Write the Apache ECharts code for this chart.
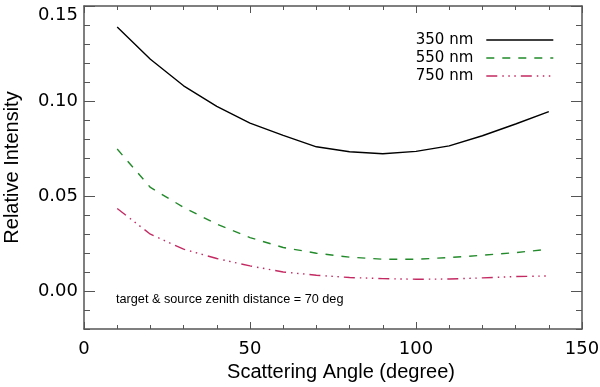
<!DOCTYPE html>
<html>
<head>
<meta charset="utf-8">
<script src="https://cdn.jsdelivr.net/npm/echarts@6/dist/echarts.min.js"></script>
<style>
  html, body { margin: 0; padding: 0; background: #fff; }
  #chart { width: 600px; height: 387px; }
</style>
</head>
<body>
<div id="chart"></div>
<script>
// ---- data ----
const angles = [10, 20, 30, 40, 50, 60, 70, 80, 90, 100, 110, 120, 130, 140];
const nm350 = [0.139, 0.122, 0.108, 0.0972, 0.0884, 0.0819, 0.0759, 0.0733, 0.0722, 0.0735, 0.0764, 0.0817, 0.0879, 0.0944];
const nm550 = [0.0747, 0.0545, 0.0440, 0.0352, 0.0281, 0.0229, 0.0199, 0.0178, 0.0167, 0.0167, 0.0176, 0.0188, 0.0202, 0.0220];
const nm750 = [0.0434, 0.0299, 0.0220, 0.0171, 0.0132, 0.0100, 0.0083, 0.0071, 0.0065, 0.0062, 0.0063, 0.0069, 0.0076, 0.0079];
const seriesNames = ['350 nm', '550 nm', '750 nm'];
const xLabels = [0, 50, 100, 150];
const xMinorTicks = [0, 10, 20, 30, 40, 50, 60, 70, 80, 90, 100, 110, 120, 130, 140, 150];
const yLabels = [0, 0.05, 0.10, 0.15];
const yMinorTicks = [-0.02, -0.01, 0, 0.01, 0.02, 0.03, 0.04, 0.05, 0.06, 0.07, 0.08, 0.09, 0.10, 0.11, 0.12, 0.13, 0.14, 0.15];
const annotation = 'target & source zenith distance = 70 deg';
const xTitle = 'Scattering Angle (degree)';
const yTitle = 'Relative Intensity';

const pairs = (vals) => angles.map((a, i) => [a, vals[i]]);

const FONT = '"Liberation Sans", Arial, Helvetica, sans-serif';
const WFONT = '"DejaVu Sans", "Liberation Sans", sans-serif';
const AXIS_COLOR = '#555';

function xAx(opts) {
  return Object.assign({
    type: 'value', min: 0, max: 150,
    axisLine: { show: false, onZero: false },
    splitLine: { show: false },
    axisLabel: { show: false },
    axisTick: { show: false }
  }, opts);
}
function yAx(opts) {
  return Object.assign({
    type: 'value', min: -0.02, max: 0.15,
    axisLine: { show: false, onZero: false },
    splitLine: { show: false },
    axisLabel: { show: false },
    axisTick: { show: false }
  }, opts);
}

const chart = echarts.init(document.getElementById('chart'), null, { renderer: 'canvas' });
chart.setOption({
  animation: false,
  backgroundColor: '#fff',
  textStyle: { fontFamily: FONT },
  grid: { left: 84, right: 18, top: 6, bottom: 58, containLabel: false, outerBoundsMode: 'none' },
  title: {
    text: annotation, left: 116, top: 293, padding: 0,
    textStyle: { fontFamily: FONT, fontSize: 12.7, fontWeight: 'normal', color: '#000' }
  },
  legend: {
    data: seriesNames,
    orient: 'vertical', align: 'right', right: 41, top: 27,
    itemWidth: 67, itemHeight: 12, itemGap: 2,
    itemStyle: { color: 'rgba(0,0,0,0)', borderWidth: 0, opacity: 0 },
    lineStyle: { width: 1.4 },
    textStyle: { fontFamily: WFONT, fontSize: 15, color: '#000', lineHeight: 16, padding: [0, 8, 0, 0] }
  },
  xAxis: [
    xAx({
      position: 'bottom',
      name: xTitle, nameLocation: 'middle', nameGap: 33,
      nameTextStyle: { fontFamily: FONT, fontSize: 20, color: '#000', padding: [0, 0, 0, 16] },
      axisLine: { show: true, onZero: false, lineStyle: { color: AXIS_COLOR, width: 1.5 } },
      axisLabel: { show: true, customValues: xLabels, fontFamily: WFONT, fontSize: 18, color: '#000', margin: 11 },
      axisTick: { show: true, inside: true, length: 4, customValues: xMinorTicks, lineStyle: { color: AXIS_COLOR } }
    }),
    xAx({ position: 'bottom', axisTick: { show: true, inside: true, length: 7, customValues: xLabels, lineStyle: { color: AXIS_COLOR } } }),
    xAx({
      position: 'top',
      axisLine: { show: true, onZero: false, lineStyle: { color: AXIS_COLOR, width: 1.5 } },
      axisTick: { show: true, inside: true, length: 4, customValues: xMinorTicks, lineStyle: { color: AXIS_COLOR } }
    }),
    xAx({ position: 'top', axisTick: { show: true, inside: true, length: 7, customValues: xLabels, lineStyle: { color: AXIS_COLOR } } })
  ],
  yAxis: [
    yAx({
      position: 'left',
      name: yTitle, nameLocation: 'middle', nameGap: 62,
      nameTextStyle: { fontFamily: FONT, fontSize: 20, color: '#000' },
      axisLine: { show: true, onZero: false, lineStyle: { color: AXIS_COLOR, width: 1.5 } },
      axisLabel: { show: true, customValues: yLabels, fontFamily: WFONT, fontSize: 18, color: '#000', margin: 6,
        formatter: (v) => (v >= 0.149 ? '{t|' + v.toFixed(2) + '}' : v.toFixed(2)),
        rich: { t: { fontFamily: WFONT, fontSize: 18, color: '#000', padding: [18, 0, 0, 0] } } },
      axisTick: { show: true, inside: true, length: 6, customValues: yMinorTicks, lineStyle: { color: AXIS_COLOR } }
    }),
    yAx({ position: 'left', axisTick: { show: true, inside: true, length: 11, customValues: yLabels, lineStyle: { color: AXIS_COLOR } } }),
    yAx({
      position: 'right',
      axisLine: { show: true, onZero: false, lineStyle: { color: AXIS_COLOR, width: 1.5 } },
      axisTick: { show: true, inside: true, length: 6, customValues: yMinorTicks, lineStyle: { color: AXIS_COLOR } }
    }),
    yAx({ position: 'right', axisTick: { show: true, inside: true, length: 11, customValues: yLabels, lineStyle: { color: AXIS_COLOR } } })
  ],
  series: [
    { name: seriesNames[0], type: 'line', xAxisIndex: 0, yAxisIndex: 0, data: pairs(nm350), showSymbol: false, symbol: 'none',
      color: '#000', lineStyle: { color: '#000', width: 1.4, type: 'solid' } },
    { name: seriesNames[1], type: 'line', xAxisIndex: 0, yAxisIndex: 0, data: pairs(nm550), showSymbol: false, symbol: 'none',
      color: '#228a2a', lineStyle: { color: '#228a2a', width: 1.4, type: [8, 8] } },
    { name: seriesNames[2], type: 'line', xAxisIndex: 0, yAxisIndex: 0, data: pairs(nm750), showSymbol: false, symbol: 'none',
      color: '#c42a62', lineStyle: { color: '#c42a62', width: 1.4, type: [11, 5, 1.5, 4.5, 1.5, 4.5, 1.5, 5] } }
  ]
});
</script>
</body>
</html>
